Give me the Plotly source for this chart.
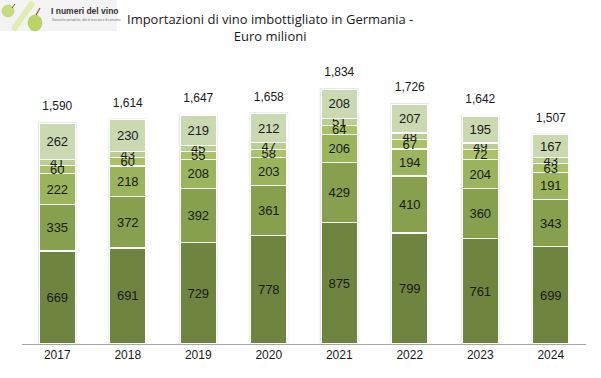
import plotly.graph_objects as go

years = ["2017", "2018", "2019", "2020", "2021", "2022", "2023", "2024"]
s1 = [669, 691, 729, 778, 875, 799, 761, 699]
s2 = [335, 372, 392, 361, 429, 410, 360, 343]
s3 = [222, 218, 208, 203, 206, 194, 204, 191]
s4 = [60, 60, 55, 58, 64, 67, 72, 63]
s5 = [41, 43, 45, 47, 51, 48, 49, 43]
s6 = [262, 230, 219, 212, 208, 207, 195, 167]
totals = [1590, 1614, 1647, 1658, 1834, 1726, 1642, 1507]

series = [s1, s2, s3, s4, s5, s6]
colors = ["#6f843f", "#86a04d", "#9bb55c", "#a9c366", "#bccf92", "#cad9b2"]

W, H = 601, 378
L, R, T, B = 22, 15, 60, 34
pw, ph = W - L - R, H - T - B
BW = 0.515
YMAX = ph / 0.139

def px(x):
    return (x - L) / pw

def py(y):
    return (H - B - y) / ph

fig = go.Figure()
for s, c in zip(series, colors):
    fig.add_trace(go.Bar(
        x=years, y=s, width=BW,
        marker=dict(color=c, line=dict(color="white", width=1.2)),
        text=[str(v) for v in s], textposition="inside", insidetextanchor="middle",
        constraintext="none", textangle=0,
        textfont=dict(family="Liberation Sans, Arial", size=13, color="#1a1a1a"),
        hoverinfo="skip", showlegend=False,
    ))

fig.add_trace(go.Scatter(
    x=years, y=totals, mode="markers+text", text=[f"{v:,}" for v in totals],
    textposition="top center", marker=dict(size=14, opacity=0),
    textfont=dict(family="Liberation Sans, Arial", size=12, color="#1a1a1a"),
    cliponaxis=False, showlegend=False, hoverinfo="skip",
))

shapes = [
    dict(type="rect", xref="paper", yref="paper", x0=px(0), y0=py(31), x1=px(117), y1=py(0),
         fillcolor="#f3f3f3", line=dict(width=0), layer="below"),
    dict(type="line", xref="paper", yref="paper", x0=px(13), y0=py(30), x1=px(33), y1=py(2),
         line=dict(color="#e3ecb0", width=6)),
    dict(type="circle", xref="paper", yref="paper", x0=px(2), y0=py(17), x1=px(14), y1=py(5),
         fillcolor="#c9dc7c", line=dict(color="#b3c966", width=0.5)),
    dict(type="line", xref="paper", yref="paper", x0=px(12), y0=py(8), x1=px(15), y1=py(4),
         line=dict(color="#7a5a30", width=1)),
    dict(type="circle", xref="paper", yref="paper", x0=px(28), y0=py(31), x1=px(42), y1=py(15),
         fillcolor="#bcd462", line=dict(color="#a8c050", width=0.5)),
    dict(type="line", xref="paper", yref="paper", x0=px(36), y0=py(15), x1=px(40), y1=py(8),
         line=dict(color="#7a5a30", width=1.2)),
]
# soft halo around each stacked bar, derived from the data
for i in range(len(years)):
    shapes.append(dict(type="rect", xref="x", yref="y", x0=i - BW / 2, x1=i + BW / 2,
                       y0=0, y1=sum(s[i] for s in series),
                       line=dict(color="#e8e8e8", width=2.5), fillcolor="rgba(0,0,0,0)",
                       layer="below"))

annotations = [
    dict(text="<b>I numeri del vino</b>", x=px(49), y=py(11), xref="paper", yref="paper",
         xanchor="left", yanchor="middle", showarrow=False,
         font=dict(family="Liberation Sans, Arial", size=8.5, color="#333333")),
    dict(text="Statistiche periodiche, dati di mercato e di consumo", x=px(50), y=py(20),
         xref="paper", yref="paper", xanchor="left", yanchor="middle", showarrow=False,
         font=dict(family="Liberation Sans, Arial", size=3, color="#777777")),
    dict(text="Importazioni di vino imbottigliato in Germania -<br>Euro milioni",
         x=px(270), y=py(8), xref="paper", yref="paper", xanchor="center", yanchor="top",
         showarrow=False, align="center",
         font=dict(family="Open Sans, Liberation Sans", size=13, color="#1a1a1a")),
]

fig.update_layout(
    barmode="stack",
    width=W, height=H, margin=dict(l=L, r=R, t=T, b=B, autoexpand=False),
    paper_bgcolor="white", plot_bgcolor="white",
    shapes=shapes, annotations=annotations,
    xaxis=dict(type="category", showline=True, linecolor="#a6a6a6", linewidth=1, ticks="",
               tickfont=dict(family="Liberation Sans, Arial", size=12, color="#1a1a1a"),
               showgrid=False, range=[-0.5, 7.5]),
    yaxis=dict(visible=False, range=[0, YMAX], showgrid=False),
)

fig.write_html("out.html", config={"displayModeBar": False},
               post_script="document.body.style.margin='0';")
